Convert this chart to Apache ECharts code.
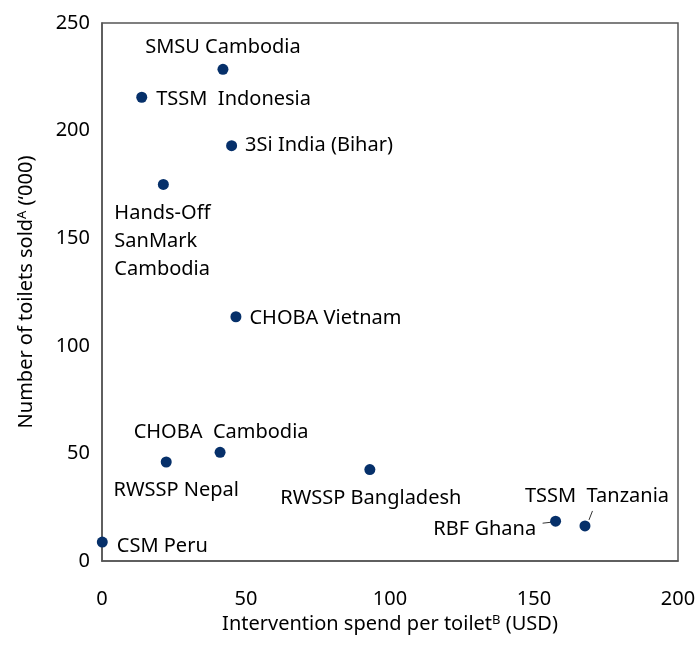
<!DOCTYPE html>
<html>
<head>
<meta charset="utf-8">
<script src="https://cdn.jsdelivr.net/npm/echarts@6/dist/echarts.min.js"></script>
<style>html,body{margin:0;padding:0;background:#fff}#c{width:700px;height:658px}</style>
</head>
<body>
<div id="c"></div>
<script>
// ---- data ----
var names = ['SMSU Cambodia', 'TSSM  Indonesia', '3Si India (Bihar)', 'Hands-Off\nSanMark\nCambodia',
  'CHOBA Vietnam', 'CHOBA  Cambodia', 'RWSSP Nepal', 'RWSSP Bangladesh', 'RBF Ghana', 'TSSM  Tanzania', 'CSM Peru'];
var spendPerToilet = [42.0, 13.8, 45.0, 21.3, 46.5, 41.0, 22.3, 93.0, 157.5, 167.7, 0.1];
var toiletsSold = [228.5, 215.5, 193.0, 175.0, 113.5, 50.5, 46.0, 42.5, 18.5, 16.3, 8.8];
var xTicks = [0, 50, 100, 150, 200];
var yTicks = [0, 50, 100, 150, 200, 250];

// ---- label placement (style only) ----
var labelPlace = [
  {position: 'top', distance: 6, dx: 0, dy: 0},
  {position: 'right', distance: 9, dx: 0, dy: 2},
  {position: 'right', distance: 8, dx: 0, dy: 0},
  {position: 'bottom', distance: 9, align: 'left', dx: -49, dy: 0, lineHeight: 28},
  {position: 'right', distance: 8, dx: 0, dy: 2},
  {position: 'top', distance: 5, dx: 1, dy: 0},
  {position: 'bottom', distance: 13, dx: 10, dy: 0},
  {position: 'bottom', distance: 13, dx: 1, dy: 0},
  {position: 'left', distance: 5, dx: -9, dy: 8},
  {position: 'top', distance: 5, dx: 12, dy: -9},
  {position: 'right', distance: 9, dx: 0, dy: 4}
];
// leader lines: point index + pixel offsets from the marker centre (style only)
var leaders = [
  {index: 8, from: [-13, 2], to: [-4, 1]},
  {index: 9, from: [4, -6], to: [7.5, -15]}
];

var FONT = 'Noto Sans';
var FS = 20;
var TXT = '#000';
var data = names.map(function (n, i) {
  var p = labelPlace[i];
  var lbl = {position: p.position, distance: p.distance};
  if (p.align) lbl.align = p.align;
  if (p.lineHeight) lbl.lineHeight = p.lineHeight;
  return {name: n, value: [spendPerToilet[i], toiletsSold[i]], label: lbl};
});
var leaderData = leaders.map(function (l) {
  return [spendPerToilet[l.index], toiletsSold[l.index]];
});

var chart = echarts.init(document.getElementById('c'));
chart.setOption({
  animation: false,
  textStyle: {fontFamily: FONT},
  grid: {left: 102, right: 22, top: 23, bottom: 97, show: true, borderColor: '#555', borderWidth: 1.5},
  xAxis: {
    type: 'value', min: xTicks[0], max: xTicks[xTicks.length - 1], interval: 50,
    splitLine: {show: false}, axisTick: {show: false},
    axisLine: {show: true, lineStyle: {color: '#555', width: 1.5}},
    axisLabel: {fontSize: FS, color: TXT, margin: 28, fontFamily: FONT},
    name: '{a|Intervention spend per toilet}{s|B}{a| (USD)}',
    nameLocation: 'middle', nameGap: 45,
    nameTextStyle: {rich: {
      a: {fontSize: FS, color: TXT, fontFamily: FONT},
      s: {fontSize: 13, color: TXT, fontFamily: FONT, verticalAlign: 'top', padding: [0, 0, 8, 0]}
    }}
  },
  yAxis: {
    type: 'value', min: yTicks[0], max: yTicks[yTicks.length - 1], interval: 50,
    splitLine: {show: false}, axisTick: {show: false},
    axisLine: {show: true, lineStyle: {color: '#555', width: 1.5}},
    axisLabel: {fontSize: FS, color: TXT, margin: 12, fontFamily: FONT},
    name: '{a|Number of toilets sold}{s|A}{a| (\u2018000)}',
    nameLocation: 'middle', nameGap: 65, nameRotate: 90,
    nameTextStyle: {rich: {
      a: {fontSize: FS, color: TXT, fontFamily: FONT},
      s: {fontSize: 13, color: TXT, fontFamily: FONT, verticalAlign: 'top', padding: [0, 0, 8, 0]}
    }}
  },
  series: [{
    type: 'scatter',
    symbolSize: 11,
    itemStyle: {color: '#06306a', opacity: 1},
    data: data,
    z: 3,
    label: {show: true, formatter: '{b}', fontSize: FS, color: TXT, fontFamily: FONT},
    labelLayout: function (params) {
      var p = labelPlace[params.dataIndex];
      return {dx: p.dx, dy: p.dy};
    }
  }, {
    type: 'custom',
    z: 2,
    silent: true,
    data: leaderData,
    renderItem: function (params, api) {
      var c = api.coord([api.value(0), api.value(1)]);
      var l = leaders[params.dataIndex];
      return {
        type: 'line',
        shape: {x1: c[0] + l.from[0], y1: c[1] + l.from[1], x2: c[0] + l.to[0], y2: c[1] + l.to[1]},
        style: {stroke: '#333', lineWidth: 1}
      };
    }
  }]
});
</script>
</body>
</html>
